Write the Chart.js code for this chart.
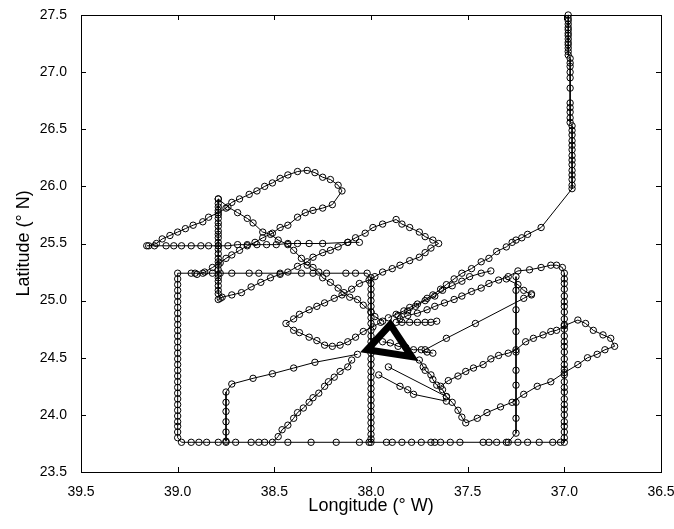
<!DOCTYPE html>
<html>
<head>
<meta charset="utf-8">
<script src="https://cdn.jsdelivr.net/npm/chart.js@4.4.1/dist/chart.umd.min.js"></script>
<style>
html,body{margin:0;padding:0;background:#fff;}
</style>
</head>
<body>
<canvas id="trackChart" width="674" height="529"></canvas>
<script>
// axis ticks
const lonTicks = [39.5, 39, 38.5, 38, 37.5, 37, 36.5];
const latTicks = [23.5, 24, 24.5, 25, 25.5, 26, 26.5, 27, 27.5];

// cruise tracks, [lon W, lat N]
const northTrack = [[36.98,27.50],[36.98,27.47],[36.98,27.45],[36.98,27.42],[36.98,27.39],[36.98,27.37],[36.98,27.34],[36.98,27.32],[36.98,27.29],[36.98,27.26],[36.98,27.24],[36.98,27.21],[36.98,27.18],[36.98,27.15],[36.97,27.12],[36.97,27.08],[36.97,27.05],[36.97,27.00],[36.97,26.95],[36.97,26.86],[36.97,26.73],[36.97,26.69],[36.97,26.65],[36.97,26.60],[36.97,26.56],[36.96,26.53],[36.96,26.49],[36.96,26.45],[36.96,26.40],[36.96,26.36],[36.96,26.32],[36.96,26.27],[36.96,26.23],[36.96,26.19],[36.96,26.14],[36.96,26.10],[36.96,26.06],[36.96,26.01],[36.96,25.98],
  [37.12,25.64],[37.19,25.58],[37.22,25.55],[37.25,25.53],[37.27,25.51],[37.30,25.47],[37.35,25.43],[37.39,25.37],[37.43,25.34],[37.48,25.28],[37.53,25.24],[37.57,25.19],[37.61,25.14],[37.64,25.10],[37.68,25.05],[37.71,25.02],[37.76,24.97],[37.80,24.94],[37.83,24.91],[37.87,24.88],[37.91,24.85]];

const upperLoop = [[39.15,25.48],[39.11,25.50],[39.08,25.54],[39.04,25.57],[39.00,25.60],[38.96,25.63],[38.92,25.66],[38.87,25.69],[38.84,25.73],[38.79,25.77],[38.75,25.81],[38.72,25.86],[38.68,25.89],[38.63,25.93],[38.59,25.96],[38.55,26.00],[38.51,26.03],[38.47,26.07],[38.43,26.10],[38.38,26.13],[38.33,26.14],[38.29,26.12],[38.25,26.08],[38.21,26.06],[38.17,26.01],[38.15,25.96],
  [38.20,25.84],[38.25,25.81],[38.30,25.79],[38.34,25.77],[38.38,25.73],[38.43,25.66],[38.47,25.64],[38.51,25.59],[38.56,25.55],[38.60,25.51],[38.64,25.48],[38.68,25.44],[38.72,25.40],[38.75,25.37],[38.78,25.33],[38.82,25.29],[38.86,25.25],[38.90,25.23]];

const westLine = [[39.16,25.48],[39.12,25.48],[39.06,25.48],[39.02,25.48],[38.98,25.48],[38.93,25.48],[38.88,25.48],[38.84,25.48],[38.79,25.48],[38.74,25.48],[38.69,25.49],[38.64,25.49],[38.59,25.49],[38.54,25.49],[38.49,25.49],[38.43,25.50],[38.38,25.50],[38.32,25.50],[38.25,25.50],[38.12,25.51],[38.06,25.51]];

const westVertical = [[38.79,25.89],[38.79,25.85],[38.79,25.82],[38.79,25.79],[38.79,25.75],[38.79,25.72],[38.79,25.68],[38.79,25.65],[38.79,25.61],[38.79,25.58],[38.79,25.55],[38.79,25.51],[38.79,25.48],[38.79,25.45],[38.79,25.41],[38.79,25.37],[38.79,25.34],[38.79,25.31],[38.79,25.27],[38.79,25.23],[38.79,25.20],[38.79,25.17],[38.79,25.13],[38.79,25.09],[38.79,25.06],[38.78,25.02]];

const diagSE = [[38.79,25.89],[38.74,25.82],[38.69,25.77],[38.64,25.72],[38.61,25.68],[38.56,25.60],[38.52,25.58],[38.48,25.53],[38.43,25.49],[38.40,25.44],[38.36,25.37],[38.33,25.31],[38.30,25.29],[38.27,25.25],[38.25,25.20],[38.21,25.16],[38.17,25.11],[38.14,25.07],[38.11,25.03],[38.07,25.01],[38.04,24.96],[38.00,24.90],[37.98,24.86],[37.94,24.82]];

const midLoop = [[38.79,25.01],[38.77,25.03],[38.72,25.05],[38.67,25.07],[38.62,25.12],[38.57,25.16],[38.52,25.20],[38.47,25.23],[38.43,25.25],[38.38,25.30],[38.33,25.34],[38.30,25.38],[38.25,25.42],[38.21,25.44],[38.17,25.47],[38.12,25.51],[38.08,25.55],[38.03,25.59],[37.99,25.64],[37.94,25.67],[37.87,25.71],
  [37.84,25.67],[37.80,25.64],[37.75,25.60],[37.72,25.56],[37.68,25.53],[37.65,25.50],
  [37.69,25.46],[37.72,25.42],[37.75,25.38],[37.80,25.35],[37.85,25.31],[37.89,25.28],[37.94,25.25],[37.98,25.21],[38.01,25.18],[38.06,25.15],[38.10,25.10],[38.15,25.05],[38.19,25.02],[38.24,24.98],[38.28,24.95],[38.32,24.92],[38.37,24.88],[38.40,24.84],[38.44,24.80],
  [38.40,24.74],[38.37,24.72],[38.32,24.68],[38.28,24.65],[38.24,24.61],[38.20,24.60],[38.16,24.61],[38.12,24.64],[38.08,24.68],[38.04,24.73],[37.99,24.77],[37.95,24.81]];

const boxTrack = [[37.85,24.84],[37.81,24.87],[37.76,24.89],[37.71,24.92],[37.67,24.95],[37.62,24.98],[37.57,25.01],[37.53,25.04],[37.48,25.08],[37.43,25.11],[37.39,25.15],[37.34,25.18],[37.29,25.21],[37.24,25.26],[37.18,25.27],[37.12,25.29],[37.07,25.31],[37.04,25.31],[37.01,25.29],
  [37.00,25.24],[37.00,25.19],[37.00,25.15],[37.00,25.10],[37.00,25.04],[37.00,24.99],[37.00,24.95],[37.00,24.90],[37.00,24.84],[37.00,24.79],[37.00,24.75],[37.00,24.69],[37.00,24.64],[37.00,24.60],[37.00,24.55],[37.00,24.49],[37.00,24.44],[37.00,24.40],[37.00,24.35],[37.00,24.29],[37.00,24.24],[37.00,24.20],[37.00,24.14],[37.00,24.09],[37.00,24.05],[37.00,24.00],[37.00,23.94],[37.00,23.90],[37.00,23.85],[37.00,23.80],[37.00,23.76],
  [37.02,23.76],[37.06,23.76],[37.13,23.76],[37.19,23.76],[37.24,23.76],[37.30,23.76],[37.35,23.76],[37.39,23.76],[37.42,23.76],[37.54,23.76],[37.59,23.76],[37.64,23.76],[37.67,23.76],[37.69,23.76],[37.74,23.76],[37.79,23.76],[37.84,23.76],[37.89,23.76],[37.92,23.76],[38.01,23.76],[38.06,23.76],[38.18,23.76],[38.31,23.76],[38.43,23.76],[38.55,23.76],[38.58,23.76],[38.62,23.76],[38.70,23.76],[38.75,23.76],[38.79,23.76],[38.85,23.76],[38.89,23.76],[38.93,23.76],[38.98,23.76],
  [39.00,23.80],[39.00,23.85],[39.00,23.90],[39.00,23.94],[39.00,23.99],[39.00,24.04],[39.00,24.09],[39.00,24.14],[39.00,24.19],[39.00,24.24],[39.00,24.29],[39.00,24.34],[39.00,24.39],[39.00,24.44],[39.00,24.49],[39.00,24.54],[39.00,24.59],[39.00,24.64],[39.00,24.69],[39.00,24.74],[39.00,24.79],[39.00,24.84],[39.00,24.89],[39.00,24.94],[39.00,24.99],[39.00,25.04],[39.00,25.09],[39.00,25.14],[39.00,25.19],[39.00,25.24],
  [38.93,25.24],[38.91,25.24],[38.87,25.24],[38.82,25.24],[38.78,25.24],[38.72,25.24],[38.63,25.24],[38.58,25.24],[38.47,25.24],[38.36,25.24],[38.30,25.24],[38.23,25.24],[38.13,25.24],[38.08,25.24],[38.02,25.24],
  [38.00,25.20],[38.00,25.15],[38.00,25.10],[38.00,25.05],[38.00,25.00],[38.00,24.95],[38.00,24.90],[38.00,24.85],[38.00,24.80],[38.00,24.74],[38.00,24.69],[38.00,24.64],[38.00,24.59],[38.00,24.54],[38.00,24.49],[38.00,24.44],[38.00,24.38],[38.00,24.33],[38.00,24.28],[38.00,24.23],[38.00,24.18],[38.00,24.13],[38.00,24.08],[38.00,24.03],[38.00,23.98],[38.00,23.93],[38.00,23.88],[38.00,23.83],[38.00,23.79],[38.00,23.76]];

const eastVertical = [[37.25,25.21],[37.25,25.09],[37.25,24.92],[37.25,24.73],[37.25,24.55],[37.25,24.39],[37.25,24.26],[37.25,24.11],[37.25,23.97],[37.25,23.84],[37.29,23.76]];

const eastLoop = [[37.75,24.48],[37.73,24.42],[37.72,24.39],[37.69,24.35],[37.68,24.31],[37.66,24.26],[37.63,24.22],[37.61,24.16],[37.58,24.11],[37.55,24.04],[37.53,23.98],[37.51,23.93],
  [37.45,23.97],[37.40,24.02],[37.33,24.07],[37.27,24.11],[37.21,24.18],[37.14,24.25],[37.07,24.29],[37.00,24.37],[36.93,24.44],[36.88,24.50],[36.83,24.53],[36.79,24.57],[36.74,24.60],
  [36.76,24.67],[36.80,24.70],[36.85,24.74],[36.89,24.80],[36.93,24.83],[37.00,24.78],[37.04,24.74],[37.07,24.73],[37.11,24.70],[37.16,24.67],[37.20,24.64],[37.25,24.57],[37.29,24.54],[37.34,24.52],[37.38,24.49],[37.42,24.44],[37.47,24.41],[37.51,24.38],[37.55,24.34],[37.60,24.30],[37.64,24.25]];

const fanWest = [[38.07,24.53],[38.29,24.46],[38.40,24.41],[38.51,24.36],[38.61,24.32],[38.72,24.27],[38.75,24.20],[38.75,24.11],[38.75,24.03],[38.75,23.94],[38.75,23.85],[38.75,23.77]];

const fanSW = [[38.10,24.48],[38.12,24.42],[38.16,24.38],[38.19,24.33],[38.22,24.29],[38.24,24.25],[38.27,24.19],[38.30,24.15],[38.32,24.11],[38.35,24.06],[38.38,24.02],[38.40,23.97],[38.43,23.91],[38.46,23.87],[38.48,23.81],[38.51,23.76]];

const sparseNE = [[37.72,24.57],[37.61,24.67],[37.46,24.80],[37.21,25.02],[37.17,25.06]];
const shortHook = [[37.30,25.19],[37.24,25.14],[37.21,25.09],[37.17,25.05]];
const sparseSE1 = [[37.91,24.42],[37.61,24.16]];
const sparseSE2 = [[37.96,24.35],[37.85,24.25],[37.81,24.22],[37.78,24.18],[37.61,24.12]];
const rowNorth = [[37.87,24.81],[37.84,24.81],[37.80,24.81],[37.76,24.81],[37.72,24.81],[37.69,24.81],[37.66,24.82]];
const rowSouth = [[37.94,24.64],[37.90,24.63],[37.86,24.60],[37.82,24.59],[37.78,24.57],[37.74,24.57],[37.71,24.55],[37.68,24.54]];
const lineNE = [[37.86,24.87],[37.81,24.91],[37.77,24.95],[37.72,25.00],[37.67,25.04],[37.63,25.09],[37.58,25.13],[37.53,25.17],[37.49,25.21],[37.43,25.24],[37.38,25.26]];

// station triangle
const stationTriangle = [[37.90,24.79],[38.02,24.57],[37.79,24.51],[37.90,24.79],[38.02,24.57]];

const tracks = [northTrack, upperLoop, westLine, westVertical, diagSE, midLoop, boxTrack, eastVertical, eastLoop,
  fanWest, fanSW, sparseNE, shortHook, sparseSE1, sparseSE2, rowNorth, rowSouth, lineNE];

const pts = arr => arr.map(p => ({x: p[0], y: p[1]}));

const datasets = tracks.map(t => ({
  data: pts(t),
  showLine: true,
  borderColor: '#000',
  borderWidth: 1,
  pointRadius: 3.2,
  pointHoverRadius: 3.2,
  pointBorderWidth: 1,
  pointBorderColor: '#000',
  pointBackgroundColor: 'rgba(0,0,0,0)',
  clip: 6
}));

datasets.push({
  data: pts(stationTriangle),
  showLine: true,
  borderColor: '#000',
  borderWidth: 7,
  borderJoinStyle: 'miter',
  pointRadius: 0,
  clip: 6
});

// box round the plot with inward ticks on all four sides
const boxTicks = {
  id: 'boxTicks',
  beforeDatasetsDraw(chart){
    const {ctx, chartArea: a, scales: {x, y}} = chart;
    ctx.save();
    ctx.strokeStyle = '#000';
    ctx.lineWidth = 1;
    ctx.strokeRect(a.left + 0.5, a.top + 0.5, a.right - a.left, a.bottom - a.top);
    ctx.beginPath();
    lonTicks.forEach(v => {
      const px = Math.round(x.getPixelForValue(v)) + 0.5;
      ctx.moveTo(px, a.bottom); ctx.lineTo(px, a.bottom - 5);
      ctx.moveTo(px, a.top); ctx.lineTo(px, a.top + 5);
    });
    latTicks.forEach(v => {
      const py = Math.round(y.getPixelForValue(v)) + 0.5;
      ctx.moveTo(a.left, py); ctx.lineTo(a.left + 5, py);
      ctx.moveTo(a.right, py); ctx.lineTo(a.right - 5, py);
    });
    ctx.stroke();
    ctx.restore();
  }
};

new Chart(document.getElementById("trackChart"),{
type:"scatter",
data:{ datasets: datasets },
plugins:[boxTicks],
options:{
responsive:false,
animation:false,
devicePixelRatio:1,
layout:{ padding:{ top:15, right:13, left:0, bottom:0 } },
plugins:{
legend:{ display:false },
tooltip:{ enabled:false }
},
scales:{
x:{
type:'linear',
reverse:true,
min:36.5,
max:39.5,
afterBuildTicks: s => { s.ticks = lonTicks.map(v => ({value: v})); },
afterFit: s => { s.height = 57; s.paddingLeft = 0; s.paddingRight = 0; },
grid:{ display:false },
border:{ display:false },
ticks:{ color:'#000', padding:4, maxRotation:0, autoSkip:false, font:{ family:'Liberation Sans', size:14 } },
title:{ display:true, text:'Longitude (° W)', color:'#000', padding:{ top:0, bottom:12 }, font:{ family:'Liberation Sans', size:18 } }
},
y:{
type:'linear',
min:23.5,
max:27.5,
afterBuildTicks: s => { s.ticks = latTicks.map(v => ({value: v})); },
afterFit: s => { s.width = 81; s.paddingTop = 0; s.paddingBottom = 0; },
grid:{ display:false },
border:{ display:false },
ticks:{ color:'#000', padding:6, autoSkip:false, font:{ family:'Liberation Sans', size:14 } },
title:{ display:true, text:'Latitude (° N)', color:'#000', padding:{ top:13, bottom:0 }, font:{ family:'Liberation Sans', size:18 } }
}
}
}
});
</script>
</body>
</html>
